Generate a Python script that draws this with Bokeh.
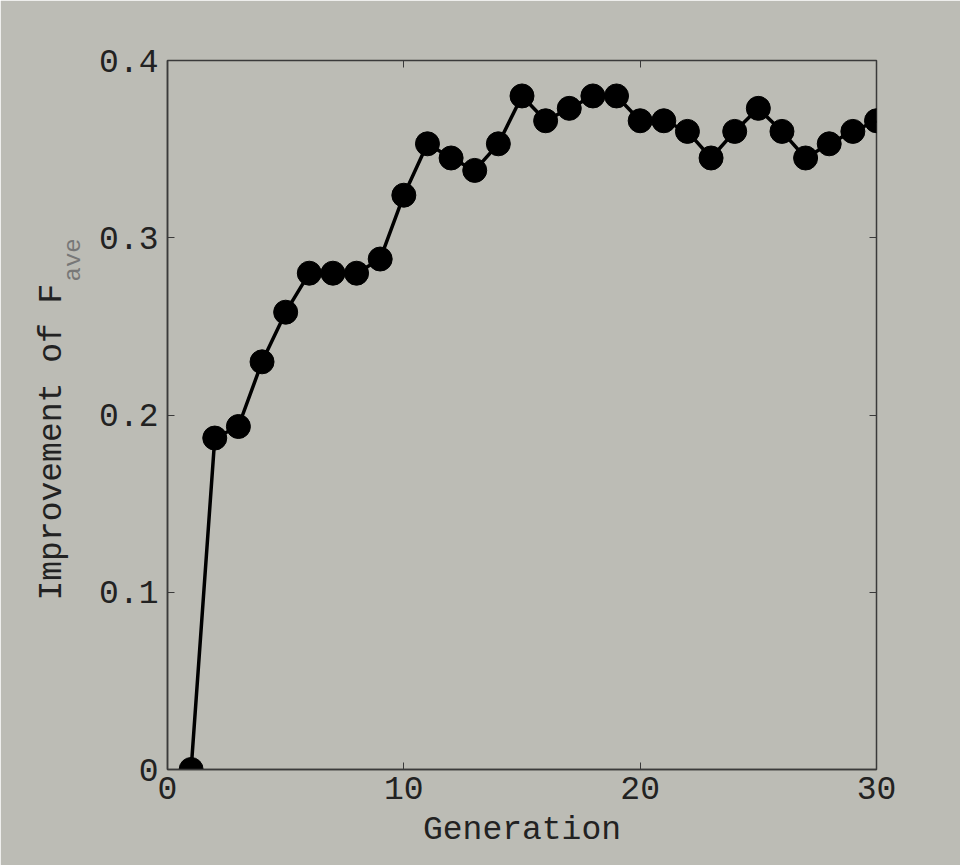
from bokeh.plotting import figure
from bokeh.models import LinearAxis, FixedTicker, Range1d, Title
from bokeh.embed import file_html
from bokeh.resources import INLINE

generation = list(range(1, 31))
improvement = [0.0, 0.187, 0.1935, 0.230, 0.258, 0.280, 0.280, 0.280, 0.288, 0.324,
               0.353, 0.345, 0.338, 0.353, 0.380, 0.366, 0.373, 0.380, 0.380, 0.366,
               0.366, 0.360, 0.345, 0.360, 0.373, 0.360, 0.345, 0.353, 0.360, 0.366]
x_ticks = [0, 10, 20, 30]
y_ticks = [0, 0.1, 0.2, 0.3, 0.4]
y_tick_labels = ["0", "0.1", "0.2", "0.3", "0.4"]
x_label = "Generation"
y_label_main = "Improvement of F"
y_label_sub = "ave"

BG = "#bcbcb5"
FONT = "Liberation Mono"
INK = "#222222"
AXC = "#3a3a3a"
FS = "33px"

p = figure(width=960, height=865, x_range=Range1d(0, 30), y_range=Range1d(0, 0.4),
           output_backend="svg", toolbar_location=None,
           min_border_left=167, min_border_right=84, min_border_top=60, min_border_bottom=96)
p.background_fill_color = BG
p.border_fill_color = BG
p.outline_line_color = AXC
p.outline_line_width = 1.5
p.xgrid.visible = False
p.ygrid.visible = False

p.line(generation, improvement, line_color="black", line_width=3.5)
p.scatter(generation, improvement, size=24, fill_color="black", line_color="black")

for ax in p.xaxis:
    ax.ticker = FixedTicker(ticks=x_ticks)
    ax.axis_label = x_label
    ax.major_label_standoff = 7
for ax in p.yaxis:
    ax.ticker = FixedTicker(ticks=y_ticks)
    ax.major_label_overrides = {t: l for t, l in zip(y_ticks, y_tick_labels)}
    ax.major_label_standoff = 9

for ax in list(p.xaxis) + list(p.yaxis):
    ax.axis_line_color = AXC
    ax.axis_line_width = 1.5
    ax.major_tick_in = 7
    ax.major_tick_out = 0
    ax.minor_tick_line_color = None
    ax.major_tick_line_color = AXC
    ax.major_label_text_font = FONT
    ax.major_label_text_font_size = FS
    ax.major_label_text_color = INK
    ax.axis_label_text_font = FONT
    ax.axis_label_text_font_size = FS
    ax.axis_label_text_font_style = "normal"
    ax.axis_label_text_color = INK
    ax.axis_label_standoff = 10

top = LinearAxis(ticker=FixedTicker(ticks=x_ticks), major_label_text_color=None,
                 major_label_text_font_size="10px",
                 axis_line_color=None, major_tick_in=7, major_tick_out=0,
                 major_tick_line_color=AXC, minor_tick_line_color=None)
right = LinearAxis(ticker=FixedTicker(ticks=y_ticks), major_label_text_color=None,
                   major_label_text_font_size="10px",
                   axis_line_color=None, major_tick_in=7, major_tick_out=0,
                   major_tick_line_color=AXC, minor_tick_line_color=None)
p.add_layout(top, "above")
p.add_layout(right, "right")

# rotated y-axis title in the left side panel: subscript closest to the frame
sub_title = Title(text=y_label_sub, align="left", offset=488, standoff=19,
                  text_font=FONT, text_font_size="24px", text_font_style="normal",
                  text_color="#777777")
main_title = Title(text=y_label_main, align="left", offset=169, standoff=-45,
                   text_font=FONT, text_font_size=FS, text_font_style="normal",
                   text_color=INK)
p.add_layout(sub_title, "left")
p.add_layout(main_title, "left")

open("out.html", "w").write(file_html(p, INLINE))
